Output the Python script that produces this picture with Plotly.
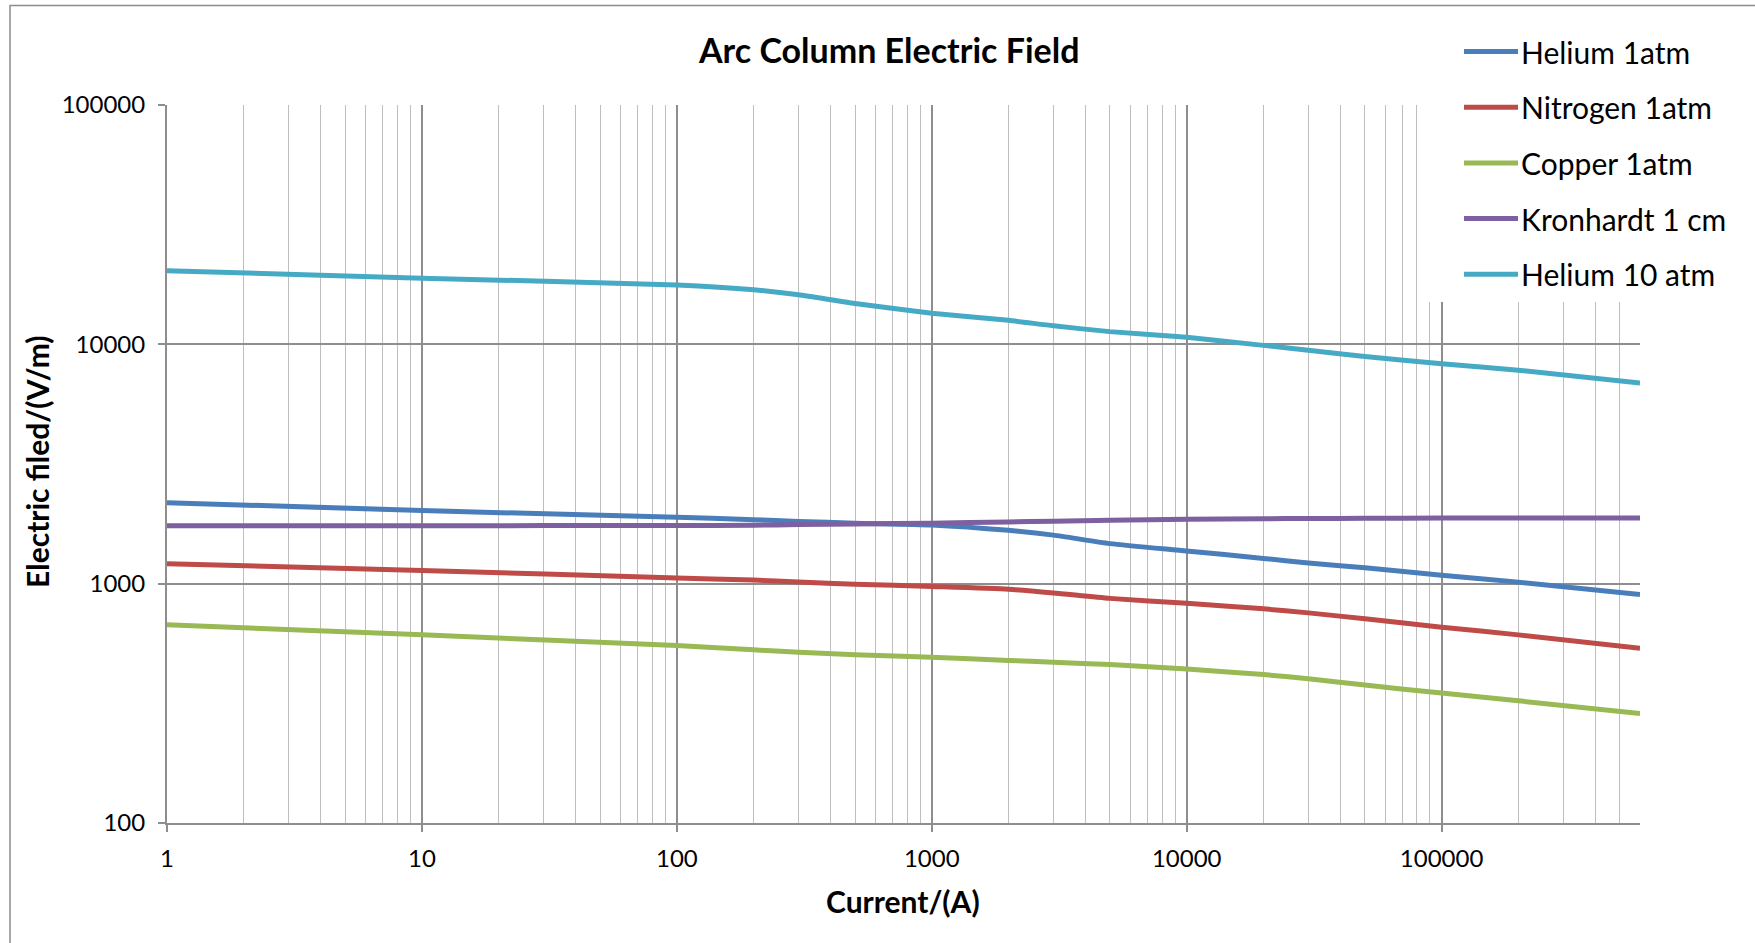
import plotly.graph_objects as go

# ---------------- data ----------------
current_A = [1, 10, 100, 200, 300, 500, 1000, 2000, 3000, 5000, 10000,
             20000, 30000, 50000, 100000, 200000, 600000]

helium_1atm = [2180, 2020, 1895, 1850, 1820, 1790, 1760, 1670, 1595, 1470, 1370,
               1275, 1220, 1165, 1085, 1015, 902]
nitrogen_1atm = [1211, 1136, 1056, 1035, 1015, 995, 973, 948, 915, 868, 828,
                 785, 755, 713, 658, 611, 537]
copper_1atm = [673, 611, 551, 529, 517, 505, 493, 478, 469, 459, 440,
               417, 401, 377, 349, 324, 287]
kronhardt_1cm = [1747, 1747, 1750, 1755, 1765, 1775, 1790, 1810, 1825, 1840, 1860,
                 1868, 1872, 1875, 1880, 1880, 1880]
helium_10atm = [20300, 18900, 17700, 16900, 16100, 14800, 13500, 12600, 11950, 11300, 10700,
                9900, 9450, 8900, 8300, 7800, 6900]

series_names = ["Helium 1atm", "Nitrogen 1atm", "Copper 1atm", "Kronhardt 1 cm", "Helium 10 atm"]
series_values = [helium_1atm, nitrogen_1atm, copper_1atm, kronhardt_1cm, helium_10atm]
series_colors = ["#4A7EBB", "#BE4B48", "#98B954", "#7D60A0", "#46AAC5"]

x_tickvals = [1, 10, 100, 1000, 10000, 100000]
x_ticktext = ["1", "10", "100", "1000", "10000", "100000"]
y_tickvals = [100, 1000, 10000, 100000]
y_ticktext = ["100", "1000", "10000", "100000"]

title_text = "Arc Column Electric Field"
x_title = "Current/(A)"
y_title = "Electric filed/(V/m)"

# ---------------- layout geometry (pixels) ----------------
W, H = 1755, 943
L, R, T, B = 167, 1640, 105, 823
FONT = "Lato, 'Open Sans', sans-serif"


def px(xp):
    return (xp - L) / (R - L)


def py(yp):
    return (B - yp) / (B - T)


fig = go.Figure()
for name, vals, col in zip(series_names, series_values, series_colors):
    fig.add_trace(go.Scatter(
        x=current_A, y=vals, name=name, mode="lines",
        line=dict(color=col, width=5, shape="spline", smoothing=0.6),
        showlegend=False,
    ))

shapes = []
annotations = []

# outer chart border
shapes.append(dict(type="rect", xref="paper", yref="paper",
                   x0=px(10), x1=px(1800), y0=py(1000), y1=py(5.5),
                   line=dict(color="#8C8C8C", width=1.5), fillcolor="rgba(0,0,0,0)",
                   layer="above"))
# legend background box (covers grid)
shapes.append(dict(type="rect", xref="paper", yref="paper",
                   x0=px(1420), x1=px(1752), y0=py(302), y1=py(8),
                   line=dict(width=0), fillcolor="white", layer="above"))

# manual legend
for i, (name, col) in enumerate(zip(series_names, series_colors)):
    yc = 51.5 + 55.7 * i
    shapes.append(dict(type="line", xref="paper", yref="paper",
                       x0=px(1464), x1=px(1518), y0=py(yc), y1=py(yc),
                       line=dict(color=col, width=5), layer="above"))
    annotations.append(dict(xref="paper", yref="paper", x=px(1519), y=py(yc),
                            text=name, showarrow=False, xanchor="left", yanchor="middle",
                            font=dict(family=FONT, size=30, color="#000000")))

# title
annotations.append(dict(xref="paper", yref="paper", x=px(888), y=py(49),
                        text="<b>" + title_text + "</b>", showarrow=False,
                        xanchor="center", yanchor="middle",
                        font=dict(family=FONT, size=34, color="#000000")))
# axis titles
annotations.append(dict(xref="paper", yref="paper", x=px(903), y=py(901),
                        text="<b>" + x_title + "</b>", showarrow=False,
                        xanchor="center", yanchor="middle",
                        font=dict(family=FONT, size=30, color="#000000")))
annotations.append(dict(xref="paper", yref="paper", x=px(37), y=py(462),
                        text="<b>" + y_title + "</b>", showarrow=False, textangle=-90,
                        xanchor="center", yanchor="middle",
                        font=dict(family=FONT, size=30, color="#000000")))

fig.update_layout(
    width=W, height=H,
    margin=dict(l=L, r=W - R, t=T, b=H - B, pad=0),
    paper_bgcolor="white", plot_bgcolor="white",
    font=dict(family=FONT, size=24, color="#000000"),
    shapes=shapes, annotations=annotations,
    showlegend=False,
)

fig.update_xaxes(
    type="log", range=[0, 5.77815],
    tickmode="array", tickvals=x_tickvals, ticktext=x_ticktext,
    showgrid=True, gridcolor="#8E8E8E", gridwidth=1.5,
    minor=dict(showgrid=True, gridcolor="#BEBEBE", gridwidth=1.3, ticks="", dtick="D1"),
    showline=True, linecolor="#8E8E8E", linewidth=2,
    ticks="outside", ticklen=7, tickcolor="#8E8E8E", tickwidth=1.5,
    ticklabelstandoff=6,
    tickfont=dict(family=FONT, size=24, color="#000000"),
    zeroline=False,
)
fig.update_yaxes(
    type="log", range=[2, 5],
    tickmode="array", tickvals=y_tickvals, ticktext=y_ticktext,
    showgrid=True, gridcolor="#8E8E8E", gridwidth=1.5,
    showline=True, linecolor="#8E8E8E", linewidth=2,
    ticks="outside", ticklen=7, tickcolor="#8E8E8E", tickwidth=1.5,
    ticklabelstandoff=8,
    tickfont=dict(family=FONT, size=24, color="#000000"),
    zeroline=False,
)

fig.write_html("out.html")
